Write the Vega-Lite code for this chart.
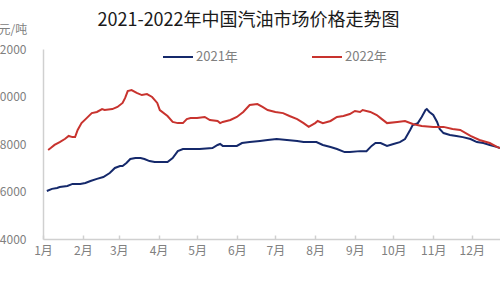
{
  "$schema": "https://vega.github.io/schema/vega-lite/v6.json",
  "autosize": {"type": "none"},
  "padding": {"left": 43, "top": 49, "right": 0, "bottom": 61},
  "width": 457,
  "height": 190,
  "background": "white",
  "title": {
    "text": "2021-2022年中国汽油市场价格走势图",
    "font": "Noto Sans CJK SC",
    "fontSize": 18,
    "fontWeight": "normal",
    "color": "#1a1a1a",
    "anchor": "middle",
    "dx": -23,
    "offset": -7
  },
  "config": {
    "view": {"stroke": null},
    "font": "Noto Sans CJK SC"
  },
  "data": {
    "values": [
      {"year": "2021年", "day": 3, "price": 6020},
      {"year": "2021年", "day": 7, "price": 6110},
      {"year": "2021年", "day": 11, "price": 6150},
      {"year": "2021年", "day": 13, "price": 6190},
      {"year": "2021年", "day": 19, "price": 6230},
      {"year": "2021年", "day": 23, "price": 6320},
      {"year": "2021年", "day": 29, "price": 6320},
      {"year": "2021年", "day": 33, "price": 6360},
      {"year": "2021年", "day": 37, "price": 6440},
      {"year": "2021年", "day": 42, "price": 6530},
      {"year": "2021年", "day": 47, "price": 6610},
      {"year": "2021年", "day": 52, "price": 6780},
      {"year": "2021年", "day": 56, "price": 6990},
      {"year": "2021年", "day": 60, "price": 7070},
      {"year": "2021年", "day": 62, "price": 7070},
      {"year": "2021年", "day": 65, "price": 7200},
      {"year": "2021年", "day": 68, "price": 7370},
      {"year": "2021年", "day": 72, "price": 7410},
      {"year": "2021年", "day": 76, "price": 7410},
      {"year": "2021年", "day": 79, "price": 7370},
      {"year": "2021年", "day": 83, "price": 7280},
      {"year": "2021年", "day": 87, "price": 7240},
      {"year": "2021年", "day": 94, "price": 7240},
      {"year": "2021年", "day": 97, "price": 7240},
      {"year": "2021年", "day": 101, "price": 7410},
      {"year": "2021年", "day": 105, "price": 7700},
      {"year": "2021年", "day": 109, "price": 7790},
      {"year": "2021年", "day": 122, "price": 7790},
      {"year": "2021年", "day": 132, "price": 7830},
      {"year": "2021年", "day": 136, "price": 7960},
      {"year": "2021年", "day": 138, "price": 8000},
      {"year": "2021年", "day": 140, "price": 7920},
      {"year": "2021年", "day": 151, "price": 7920},
      {"year": "2021年", "day": 155, "price": 8040},
      {"year": "2021年", "day": 161, "price": 8080},
      {"year": "2021年", "day": 169, "price": 8130},
      {"year": "2021年", "day": 175, "price": 8170},
      {"year": "2021年", "day": 182, "price": 8210},
      {"year": "2021年", "day": 190, "price": 8170},
      {"year": "2021年", "day": 198, "price": 8130},
      {"year": "2021年", "day": 203, "price": 8080},
      {"year": "2021年", "day": 213, "price": 8080},
      {"year": "2021年", "day": 218, "price": 7960},
      {"year": "2021年", "day": 224, "price": 7870},
      {"year": "2021年", "day": 229, "price": 7790},
      {"year": "2021年", "day": 235, "price": 7660},
      {"year": "2021年", "day": 239, "price": 7660},
      {"year": "2021年", "day": 247, "price": 7700},
      {"year": "2021年", "day": 252, "price": 7700},
      {"year": "2021年", "day": 256, "price": 7920},
      {"year": "2021年", "day": 259, "price": 8040},
      {"year": "2021年", "day": 263, "price": 8040},
      {"year": "2021年", "day": 268, "price": 7920},
      {"year": "2021年", "day": 273, "price": 8000},
      {"year": "2021年", "day": 278, "price": 8080},
      {"year": "2021年", "day": 282, "price": 8210},
      {"year": "2021年", "day": 286, "price": 8590},
      {"year": "2021年", "day": 288, "price": 8800},
      {"year": "2021年", "day": 292, "price": 8880},
      {"year": "2021年", "day": 295, "price": 9140},
      {"year": "2021年", "day": 298, "price": 9430},
      {"year": "2021年", "day": 299, "price": 9470},
      {"year": "2021年", "day": 301, "price": 9350},
      {"year": "2021年", "day": 304, "price": 9220},
      {"year": "2021年", "day": 307, "price": 8930},
      {"year": "2021年", "day": 309, "price": 8630},
      {"year": "2021年", "day": 312, "price": 8460},
      {"year": "2021年", "day": 317, "price": 8380},
      {"year": "2021年", "day": 322, "price": 8340},
      {"year": "2021年", "day": 327, "price": 8290},
      {"year": "2021年", "day": 333, "price": 8210},
      {"year": "2021年", "day": 338, "price": 8080},
      {"year": "2021年", "day": 343, "price": 8040},
      {"year": "2021年", "day": 348, "price": 7960},
      {"year": "2021年", "day": 354, "price": 7870},
      {"year": "2021年", "day": 356, "price": 7830},
      {"year": "2022年", "day": 4, "price": 7750},
      {"year": "2022年", "day": 6, "price": 7830},
      {"year": "2022年", "day": 9, "price": 7960},
      {"year": "2022年", "day": 13, "price": 8080},
      {"year": "2022年", "day": 17, "price": 8210},
      {"year": "2022年", "day": 20, "price": 8340},
      {"year": "2022年", "day": 23, "price": 8290},
      {"year": "2022年", "day": 25, "price": 8290},
      {"year": "2022年", "day": 27, "price": 8590},
      {"year": "2022年", "day": 30, "price": 8880},
      {"year": "2022年", "day": 34, "price": 9090},
      {"year": "2022年", "day": 38, "price": 9300},
      {"year": "2022年", "day": 42, "price": 9350},
      {"year": "2022年", "day": 46, "price": 9470},
      {"year": "2022年", "day": 48, "price": 9430},
      {"year": "2022年", "day": 54, "price": 9470},
      {"year": "2022年", "day": 58, "price": 9560},
      {"year": "2022年", "day": 62, "price": 9730},
      {"year": "2022年", "day": 64, "price": 9940},
      {"year": "2022年", "day": 66, "price": 10230},
      {"year": "2022年", "day": 69, "price": 10270},
      {"year": "2022年", "day": 73, "price": 10150},
      {"year": "2022年", "day": 77, "price": 10060},
      {"year": "2022年", "day": 81, "price": 10100},
      {"year": "2022年", "day": 85, "price": 9980},
      {"year": "2022年", "day": 89, "price": 9730},
      {"year": "2022年", "day": 91, "price": 9430},
      {"year": "2022年", "day": 97, "price": 9180},
      {"year": "2022年", "day": 101, "price": 8930},
      {"year": "2022年", "day": 105, "price": 8880},
      {"year": "2022年", "day": 109, "price": 8880},
      {"year": "2022年", "day": 112, "price": 9050},
      {"year": "2022年", "day": 115, "price": 9090},
      {"year": "2022年", "day": 120, "price": 9090},
      {"year": "2022年", "day": 126, "price": 9140},
      {"year": "2022年", "day": 130, "price": 9010},
      {"year": "2022年", "day": 136, "price": 8970},
      {"year": "2022年", "day": 138, "price": 8880},
      {"year": "2022年", "day": 140, "price": 8930},
      {"year": "2022年", "day": 146, "price": 9010},
      {"year": "2022年", "day": 151, "price": 9140},
      {"year": "2022年", "day": 156, "price": 9350},
      {"year": "2022年", "day": 161, "price": 9640},
      {"year": "2022年", "day": 167, "price": 9680},
      {"year": "2022年", "day": 171, "price": 9560},
      {"year": "2022年", "day": 175, "price": 9430},
      {"year": "2022年", "day": 181, "price": 9350},
      {"year": "2022年", "day": 187, "price": 9300},
      {"year": "2022年", "day": 192, "price": 9180},
      {"year": "2022年", "day": 198, "price": 9050},
      {"year": "2022年", "day": 203, "price": 8880},
      {"year": "2022年", "day": 207, "price": 8720},
      {"year": "2022年", "day": 212, "price": 8880},
      {"year": "2022年", "day": 214, "price": 8970},
      {"year": "2022年", "day": 218, "price": 8880},
      {"year": "2022年", "day": 224, "price": 8970},
      {"year": "2022年", "day": 229, "price": 9140},
      {"year": "2022年", "day": 234, "price": 9180},
      {"year": "2022年", "day": 239, "price": 9260},
      {"year": "2022年", "day": 243, "price": 9390},
      {"year": "2022年", "day": 247, "price": 9350},
      {"year": "2022年", "day": 249, "price": 9430},
      {"year": "2022年", "day": 255, "price": 9350},
      {"year": "2022年", "day": 260, "price": 9220},
      {"year": "2022年", "day": 263, "price": 9090},
      {"year": "2022年", "day": 268, "price": 8880},
      {"year": "2022年", "day": 276, "price": 8930},
      {"year": "2022年", "day": 282, "price": 8970},
      {"year": "2022年", "day": 288, "price": 8840},
      {"year": "2022年", "day": 295, "price": 8760},
      {"year": "2022年", "day": 304, "price": 8720},
      {"year": "2022年", "day": 312, "price": 8720},
      {"year": "2022年", "day": 319, "price": 8630},
      {"year": "2022年", "day": 325, "price": 8590},
      {"year": "2022年", "day": 333, "price": 8340},
      {"year": "2022年", "day": 340, "price": 8170},
      {"year": "2022年", "day": 348, "price": 8040},
      {"year": "2022年", "day": 354, "price": 7870},
      {"year": "2022年", "day": 356, "price": 7830}
    ]
  },
  "mark": {"type": "line", "strokeWidth": 2, "clip": true, "interpolate": "linear"},
  "encoding": {
    "x": {
      "field": "day",
      "type": "quantitative",
      "scale": {"domain": [0, 356], "nice": false, "zero": false},
      "axis": {
        "title": null,
        "values": [0, 31, 59, 90, 120, 151, 181, 212, 243, 273, 304, 334],
        "labelExpr": "(indexof([0, 31, 59, 90, 120, 151, 181, 212, 243, 273, 304, 334], datum.value) + 1) + '月'",
        "labelFontSize": 12,
        "labelColor": "#808080",
        "labelFlush": false,
        "labelPadding": 10,
        "grid": false,
        "ticks": true,
        "tickSize": -4,
        "tickColor": "#d0d0d0",
        "tickWidth": 1.5,
        "domainColor": "#d0d0d0",
        "domainWidth": 1.5
      }
    },
    "y": {
      "field": "price",
      "type": "quantitative",
      "scale": {"domain": [4000, 12000], "nice": false, "zero": false},
      "axis": {
        "values": [4000, 6000, 8000, 10000, 12000],
        "format": "d",
        "labelFontSize": 12,
        "labelColor": "#808080",
        "labelFlush": false,
        "labelPadding": 17,
        "ticks": false,
        "grid": false,
        "domainColor": "#d0d0d0",
        "domainWidth": 1.5,
        "title": "元/吨",
        "titleAngle": 0,
        "titleX": -45,
        "titleY": -20,
        "titleAlign": "left",
        "titleBaseline": "middle",
        "titleFontSize": 12,
        "titleFontWeight": "normal",
        "titleColor": "#808080"
      }
    },
    "color": {
      "field": "year",
      "type": "nominal",
      "scale": {"domain": ["2021年", "2022年"], "range": ["#15296b", "#c8332e"]},
      "legend": {
        "title": null,
        "orient": "none",
        "direction": "horizontal",
        "legendX": 119,
        "legendY": -8,
        "symbolType": "stroke",
        "symbolSize": 900,
        "symbolStrokeWidth": 2,
        "labelFontSize": 13,
        "labelColor": "#808080",
        "labelOffset": 2,
        "columnPadding": 70
      }
    }
  }
}
